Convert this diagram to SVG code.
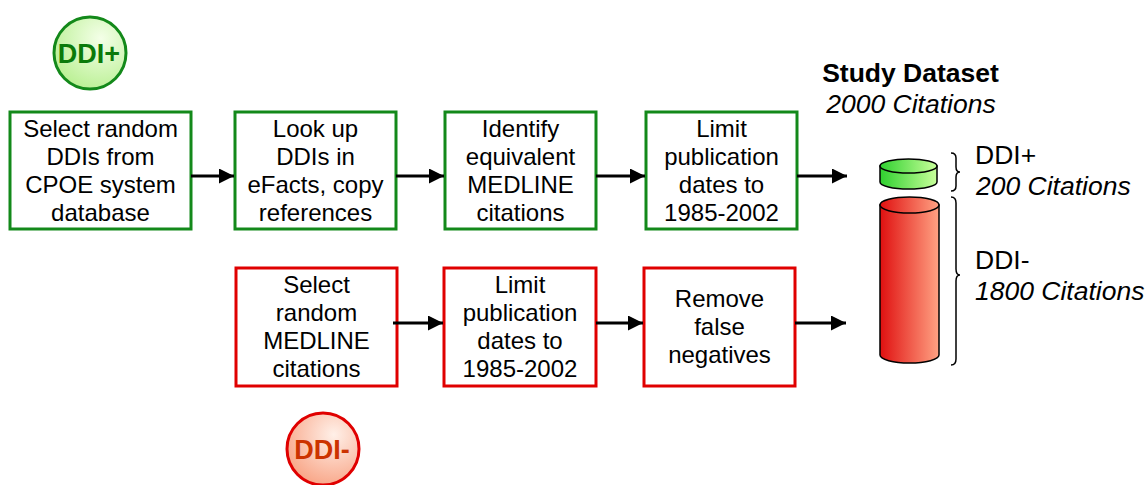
<svg xmlns="http://www.w3.org/2000/svg" width="1148" height="485" viewBox="0 0 1148 485">
  <style>
    .box-g { fill: #ffffff; stroke: #13891a; stroke-width: 3; }
    .box-r { fill: #ffffff; stroke: #e00000; stroke-width: 3; }
    .lbl { font-family: "Liberation Sans", Arial, sans-serif; font-size: 24px; fill: #000; text-anchor: middle; }
    .side { font-family: "Liberation Sans", Arial, sans-serif; font-size: 26.5px; fill: #000; }
    .it { font-style: italic; }
    .badge { font-family: "Liberation Sans", Arial, sans-serif; font-size: 27px; font-weight: bold; text-anchor: middle; }
    .conn { stroke: #000; stroke-width: 3; fill: none; marker-end: url(#arrow); }
    .brace { stroke: #000; stroke-width: 1.5; fill: none; }
    .cyl { stroke: #000; stroke-width: 1.5; }
  </style>
  <defs>
    <marker id="arrow" viewBox="0 0 10 10" refX="10" refY="5" markerWidth="6.5" markerHeight="5" markerUnits="strokeWidth" orient="auto">
      <path d="M0,0 L10,5 L0,10 z" fill="#000"/>
    </marker>
    <radialGradient id="badgeG" cx="0.65" cy="0.3" r="0.8">
      <stop offset="0" stop-color="#f4ffe8"/>
      <stop offset="1" stop-color="#b6ef8e"/>
    </radialGradient>
    <radialGradient id="badgeR" cx="0.65" cy="0.3" r="0.8">
      <stop offset="0" stop-color="#fff0e8"/>
      <stop offset="1" stop-color="#f8a080"/>
    </radialGradient>
    <linearGradient id="cylG" x1="0" y1="0" x2="1" y2="0">
      <stop offset="0" stop-color="#2fd02f"/>
      <stop offset="1" stop-color="#c8ff9a"/>
    </linearGradient>
    <linearGradient id="cylR" x1="0" y1="0" x2="1" y2="0">
      <stop offset="0" stop-color="#e01010"/>
      <stop offset="1" stop-color="#ffa283"/>
    </linearGradient>
  </defs>

  <!-- badges -->
  <g id="badge-pos">
    <circle cx="90" cy="53" r="36" fill="url(#badgeG)" stroke="#13891a" stroke-width="3"/>
    <text class="badge" x="89" y="63" fill="#0a7a0a">DDI+</text>
  </g>
  <g id="badge-neg">
    <circle cx="323" cy="449" r="36" fill="url(#badgeR)" stroke="#e00000" stroke-width="3"/>
    <text class="badge" x="322" y="459" fill="#cc3300">DDI-</text>
  </g>

  <!-- positive pipeline -->
  <g id="select-ddis">
    <rect class="box-g" x="10" y="112" width="181" height="117"/>
    <text class="lbl" x="100.5" y="137">Select random</text>
    <text class="lbl" x="100.5" y="165">DDIs from</text>
    <text class="lbl" x="100.5" y="193">CPOE system</text>
    <text class="lbl" x="100.5" y="221">database</text>
  </g>
  <g id="lookup-efacts">
    <rect class="box-g" x="235" y="112" width="161" height="117"/>
    <text class="lbl" x="315.5" y="137">Look up</text>
    <text class="lbl" x="315.5" y="165">DDIs in</text>
    <text class="lbl" x="315.5" y="193">eFacts, copy</text>
    <text class="lbl" x="315.5" y="221">references</text>
  </g>
  <g id="identify-medline">
    <rect class="box-g" x="445" y="112" width="151" height="117"/>
    <text class="lbl" x="520.5" y="137">Identify</text>
    <text class="lbl" x="520.5" y="165">equivalent</text>
    <text class="lbl" x="520.5" y="193">MEDLINE</text>
    <text class="lbl" x="520.5" y="221">citations</text>
  </g>
  <g id="limit-dates-pos">
    <rect class="box-g" x="646" y="112" width="151" height="117"/>
    <text class="lbl" x="721.5" y="137">Limit</text>
    <text class="lbl" x="721.5" y="165">publication</text>
    <text class="lbl" x="721.5" y="193">dates to</text>
    <text class="lbl" x="721.5" y="221">1985-2002</text>
  </g>

  <!-- negative pipeline -->
  <g id="select-medline">
    <rect class="box-r" x="236" y="268" width="161" height="118"/>
    <text class="lbl" x="316.5" y="293">Select</text>
    <text class="lbl" x="316.5" y="321">random</text>
    <text class="lbl" x="316.5" y="349">MEDLINE</text>
    <text class="lbl" x="316.5" y="377">citations</text>
  </g>
  <g id="limit-dates-neg">
    <rect class="box-r" x="444" y="268" width="152" height="118"/>
    <text class="lbl" x="520" y="293">Limit</text>
    <text class="lbl" x="520" y="321">publication</text>
    <text class="lbl" x="520" y="349">dates to</text>
    <text class="lbl" x="520" y="377">1985-2002</text>
  </g>
  <g id="remove-false-neg">
    <rect class="box-r" x="644" y="268" width="151" height="118"/>
    <text class="lbl" x="719.5" y="307">Remove</text>
    <text class="lbl" x="719.5" y="335">false</text>
    <text class="lbl" x="719.5" y="363">negatives</text>
  </g>

  <!-- study dataset -->
  <g id="dataset">
    <text x="910.5" y="82" font-family="Liberation Sans, Arial, sans-serif" font-size="26.5" font-weight="bold" text-anchor="middle">Study Dataset</text>
    <text x="911" y="113" font-family="Liberation Sans, Arial, sans-serif" font-size="26.5" font-style="italic" text-anchor="middle">2000 Citations</text>
  </g>
  <g id="cylinder-pos">
    <path class="cyl" fill="url(#cylG)" d="M880,166 L880,182 A28.5,7 0 0 0 937,182 L937,166 Z"/>
    <ellipse class="cyl" cx="908.5" cy="166" rx="28.5" ry="7" fill="url(#cylG)"/>
  </g>
  <g id="cylinder-neg">
    <path class="cyl" fill="url(#cylR)" d="M880,205 L880,355 A29.5,8 0 0 0 939,355 L939,205 Z"/>
    <ellipse class="cyl" cx="909.5" cy="205" rx="29.5" ry="8" fill="url(#cylR)"/>
  </g>
  <g id="brace-pos">
    <path class="brace" d="M951,153 Q956,153 956,158 L956,167 Q956,172 960,172 Q956,172 956,177 L956,186 Q956,191 951,191"/>
    <text class="side" x="975" y="164">DDI+</text>
    <text class="side it" x="976" y="195">200 Citations</text>
  </g>
  <g id="brace-neg">
    <path class="brace" d="M951,197 Q956,197 956,203 L956,269 Q956,275 960,275 Q956,275 956,281 L956,359 Q956,365 951,365"/>
    <text class="side" x="975" y="269">DDI-</text>
    <text class="side it" x="975" y="300">1800 Citations</text>
  </g>

  <!-- connectors -->
  <g id="connectors">
    <line class="conn" x1="191" y1="176" x2="234" y2="176"/>
    <line class="conn" x1="396" y1="176" x2="444" y2="176"/>
    <line class="conn" x1="596" y1="176" x2="645" y2="176"/>
    <line class="conn" x1="797" y1="176" x2="847" y2="176"/>
    <line class="conn" x1="393" y1="323" x2="443" y2="323"/>
    <line class="conn" x1="596" y1="323" x2="643" y2="323"/>
    <line class="conn" x1="795" y1="323" x2="846" y2="323"/>
  </g>
</svg>
